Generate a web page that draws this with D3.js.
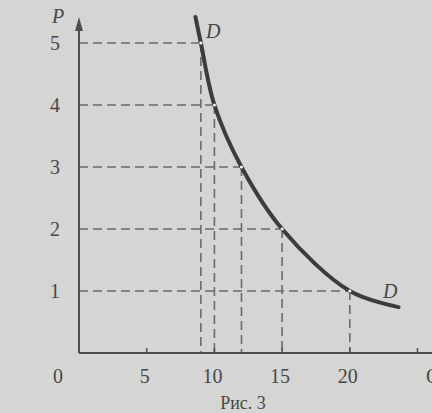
<!DOCTYPE html>
<html><head><meta charset="utf-8">
<script src="https://cdn.jsdelivr.net/npm/d3@7"></script>
<style>
html,body{margin:0;padding:0;background:#d5d5d3;}
svg{display:block;}
text{font-family:"Liberation Serif","DejaVu Serif",serif;fill:#474747;}
</style></head>
<body>
<script>
// demand schedule points
const quantities = [9, 10, 12, 15, 20];
const prices = [5, 4, 3, 2, 1];
// demand curve (including the curve ends beyond the marked points)
const curveQ = [8.6, 9, 10, 12, 15, 20, 23.6];
const curveP = [5.42, 5, 4, 3, 2, 1, 0.74];
const xTicks = [5, 10, 15, 20, 25];
const xTickLabels = ["5", "10", "15", "20"];
const yTickLabels = ["1", "2", "3", "4", "5"];

const W = 432, H = 413;
const svg = d3.select("body").append("svg").attr("width", W).attr("height", H);

const x = d3.scaleLinear().domain([0, 25]).range([79, 417.5]);
const y = d3.scaleLinear().domain([0, 5]).range([353, 43]);

const ink = "#4e4e4e";

// dashed guide lines
const dashG = svg.append("g").attr("stroke", "#6a6a6a").attr("stroke-width", 1.6)
  .attr("stroke-dasharray", "9,5").attr("fill", "none");
quantities.forEach((q, i) => {
  const p = prices[i];
  dashG.append("line").attr("x1", x(0)).attr("x2", x(q)).attr("y1", y(p)).attr("y2", y(p));
  dashG.append("line").attr("x1", x(q)).attr("x2", x(q)).attr("y1", y(p)).attr("y2", y(0));
});

// axes
svg.append("line").attr("x1", x(0)).attr("x2", W).attr("y1", y(0)).attr("y2", y(0))
  .attr("stroke", ink).attr("stroke-width", 2);
svg.append("line").attr("x1", x(0)).attr("x2", x(0)).attr("y1", y(0)).attr("y2", 24)
  .attr("stroke", ink).attr("stroke-width", 2);
svg.append("path").attr("d", `M${x(0)},17 L${x(0)-4},31 L${x(0)+4},31 Z`).attr("fill", ink);

// small ticks
svg.append("g").selectAll("line").data(xTicks).join("line")
  .attr("x1", d => x(d)).attr("x2", d => x(d))
  .attr("y1", y(0)).attr("y2", y(0) - 5)
  .attr("stroke", ink).attr("stroke-width", 1.5);

// curve
const line = d3.line().x(d => x(d[0])).y(d => y(d[1])).curve(d3.curveCatmullRom.alpha(0.5));
svg.append("path").datum(curveQ.map((q, i) => [q, curveP[i]]))
  .attr("d", line).attr("fill", "none").attr("stroke", "#3c3c3c")
  .attr("stroke-width", 4).attr("stroke-linecap", "round");

// points
svg.append("g").selectAll("circle").data(quantities).join("circle")
  .attr("cx", d => x(d)).attr("cy", (d, i) => y(prices[i])).attr("r", 1.6)
  .attr("fill", "#f2f2f2");

// y labels
svg.append("g").selectAll("text").data(yTickLabels).join("text")
  .attr("x", 55).attr("y", d => y(+d) + 7)
  .attr("text-anchor", "middle").attr("font-size", 20).text(d => d);

// x labels
svg.append("g").selectAll("text").data(xTickLabels).join("text")
  .attr("x", d => x(+d) - 2).attr("y", 383)
  .attr("text-anchor", "middle").attr("font-size", 20).text(d => d);
svg.append("text").attr("x", 58).attr("y", 383).attr("text-anchor", "middle")
  .attr("font-size", 20).text("0");
svg.append("text").attr("x", 426).attr("y", 383).attr("font-size", 20).text("Q");

// axis name
svg.append("text").attr("x", 52).attr("y", 23).attr("font-size", 20)
  .attr("font-style", "italic").text("P");

// curve labels
svg.append("text").attr("x", 206).attr("y", 38).attr("font-size", 20)
  .attr("font-style", "italic").text("D");
svg.append("text").attr("x", 383).attr("y", 298).attr("font-size", 20)
  .attr("font-style", "italic").text("D");

// caption
svg.append("text").attr("x", 243).attr("y", 409).attr("text-anchor", "middle")
  .attr("font-size", 18).text("Рис. 3");
</script>
</body></html>
